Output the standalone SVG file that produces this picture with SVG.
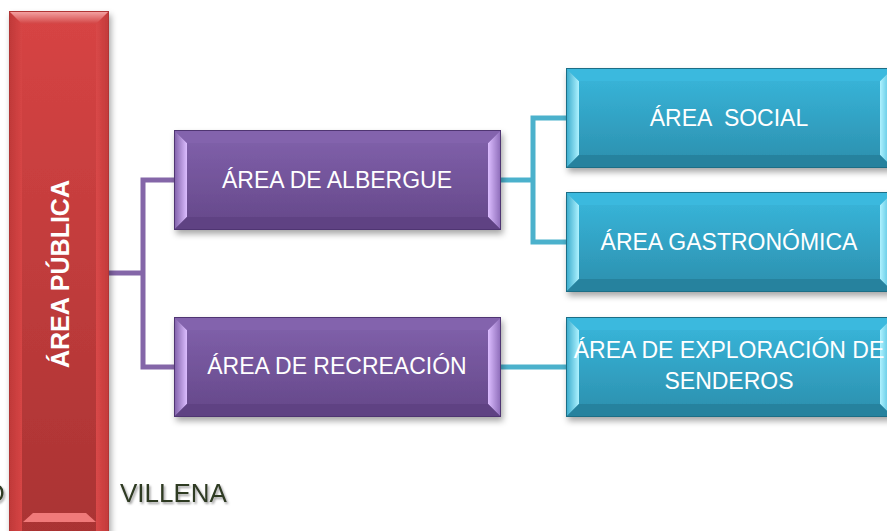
<svg xmlns="http://www.w3.org/2000/svg" xmlns:xlink="http://www.w3.org/1999/xlink" width="887" height="531" viewBox="0 0 887 531">
<defs>
  <filter id="sh" x="-10%" y="-10%" width="120%" height="130%">
    <feDropShadow dx="2" dy="4" stdDeviation="3" flood-color="#000" flood-opacity="0.35"/>
  </filter>
  <filter id="tsh" x="-10%" y="-20%" width="130%" height="150%">
    <feDropShadow dx="1.5" dy="2" stdDeviation="1" flood-color="#777" flood-opacity="0.7"/>
  </filter>
  <linearGradient id="pFace" x1="0" y1="0" x2="0" y2="1">
    <stop offset="0" stop-color="#8262ad"/>
    <stop offset="1" stop-color="#644788"/>
  </linearGradient>
  <linearGradient id="pL" x1="0" y1="0" x2="1" y2="0">
    <stop offset="0" stop-color="#7d5da6"/>
    <stop offset="1" stop-color="#dcbdff"/>
  </linearGradient>
  <linearGradient id="pR" x1="0" y1="0" x2="1" y2="0">
    <stop offset="0" stop-color="#dcbdff"/>
    <stop offset="1" stop-color="#8a69b6"/>
  </linearGradient>
  <linearGradient id="cFace" x1="0" y1="0" x2="0" y2="1">
    <stop offset="0" stop-color="#39b8dd"/>
    <stop offset="1" stop-color="#2b8eac"/>
  </linearGradient>
  <linearGradient id="cL" x1="0" y1="0" x2="1" y2="0">
    <stop offset="0" stop-color="#34a9cb"/>
    <stop offset="1" stop-color="#aef2ff"/>
  </linearGradient>
  <linearGradient id="cR" x1="0" y1="0" x2="1" y2="0">
    <stop offset="0" stop-color="#aef2ff"/>
    <stop offset="1" stop-color="#3ab3d6"/>
  </linearGradient>
  <linearGradient id="rFace" x1="0" y1="0" x2="0" y2="1">
    <stop offset="0" stop-color="#d74444"/>
    <stop offset="1" stop-color="#a93333"/>
  </linearGradient>
  <linearGradient id="rTop" x1="0" y1="0" x2="0" y2="1">
    <stop offset="0" stop-color="#f6a8a8"/>
    <stop offset="1" stop-color="#d24242"/>
  </linearGradient>
  <linearGradient id="rL" x1="0" y1="0" x2="1" y2="0">
    <stop offset="0" stop-color="#bf3838"/>
    <stop offset="1" stop-color="#d64545"/>
  </linearGradient>
  <linearGradient id="rR" x1="0" y1="0" x2="1" y2="0">
    <stop offset="0" stop-color="#d94848"/>
    <stop offset="1" stop-color="#c23a3a"/>
  </linearGradient>
  <g id="pbox">
    <rect x="0" y="0" width="327" height="100" fill="url(#pFace)"/>
    <polygon points="0,0 13,13 13,87 0,100" fill="url(#pL)"/>
    <polygon points="327,0 314,13 314,87 327,100" fill="url(#pR)"/>
    <polygon points="0,0 327,0 314,13 13,13" fill="#8364ad"/>
    <polygon points="0,100 13,87 314,87 327,100" fill="#5f4383"/>
    <rect x="0.5" y="0.5" width="326" height="99" fill="none" stroke="#4f3572" stroke-width="1"/>
  </g>
  <g id="cbox">
    <rect x="0" y="0" width="327" height="100" fill="url(#cFace)"/>
    <polygon points="0,0 13,13 13,87 0,100" fill="url(#cL)"/>
    <polygon points="327,0 314,13 314,87 327,100" fill="url(#cR)"/>
    <polygon points="0,0 327,0 314,13 13,13" fill="#3bb9de"/>
    <polygon points="0,100 13,87 314,87 327,100" fill="#27829e"/>
    <rect x="0.5" y="0.5" width="326" height="99" fill="none" stroke="#1f6e86" stroke-width="1"/>
  </g>
</defs>
<style>
  .lbl { font-family: "Liberation Sans", Arial, sans-serif; font-size: 23px; fill: #ffffff; text-anchor: middle; }
  .big { font-family: "Liberation Sans", Arial, sans-serif; font-size: 25px; font-weight: bold; fill: #ffffff; text-anchor: middle; }
  .foot { font-family: "Liberation Sans", Arial, sans-serif; font-size: 26px; fill: #2e3b20; }
  .pc { fill: none; stroke: #8466a8; stroke-width: 5; }
  .cc { fill: none; stroke: #4bb1cc; stroke-width: 5; }
</style>
<rect width="887" height="531" fill="#ffffff"/>

<g id="footer-text" filter="url(#tsh)">
  <text class="foot" x="-14" y="502">D</text>
  <text class="foot" x="120" y="502">VILLENA</text>
</g>

<g id="connectors">
  <polyline class="pc" points="109,273 143,273"/>
  <polyline class="pc" points="174,180 143,180 143,367 174,367"/>
  <polyline class="cc" points="501,180 533,180"/>
  <polyline class="cc" points="566,118 533,118 533,242 566,242"/>
  <polyline class="cc" points="501,367 566,367"/>
</g>

<g id="area-publica">
  <g filter="url(#sh)">
    <rect x="9" y="11" width="100" height="530" fill="url(#rFace)"/>
    <polygon points="9,11 22,24 22,541 9,541" fill="url(#rL)"/>
    <polygon points="109,11 96,24 96,541 109,541" fill="url(#rR)"/>
    <polygon points="9,11 109,11 96,24 22,24" fill="url(#rTop)"/>
    <polygon points="23,522 96,522 86,513 33,513" fill="#f07a7a"/>
    <rect x="9.5" y="11.5" width="99" height="530" fill="none" stroke="#b03434" stroke-width="1"/>
  </g>
  <text class="big" transform="translate(69,274) rotate(-90)" x="0" y="0">ÁREA PÚBLICA</text>
</g>

<g id="area-albergue">
  <use xlink:href="#pbox" x="174" y="130" filter="url(#sh)"/>
  <text class="lbl" x="337" y="188">ÁREA DE ALBERGUE</text>
</g>

<g id="area-recreacion">
  <use xlink:href="#pbox" x="174" y="317" filter="url(#sh)"/>
  <text class="lbl" x="337" y="374">ÁREA DE RECREACIÓN</text>
</g>

<g id="area-social">
  <use xlink:href="#cbox" x="566" y="68" filter="url(#sh)"/>
  <text class="lbl" x="729" y="126" xml:space="preserve">ÁREA  SOCIAL</text>
</g>

<g id="area-gastronomica">
  <use xlink:href="#cbox" x="566" y="192" filter="url(#sh)"/>
  <text class="lbl" x="729" y="250">ÁREA GASTRONÓMICA</text>
</g>

<g id="area-exploracion">
  <use xlink:href="#cbox" x="566" y="317" filter="url(#sh)"/>
  <text class="lbl" x="729" y="358">ÁREA DE EXPLORACIÓN DE</text>
  <text class="lbl" x="729" y="389">SENDEROS</text>
</g>
</svg>
